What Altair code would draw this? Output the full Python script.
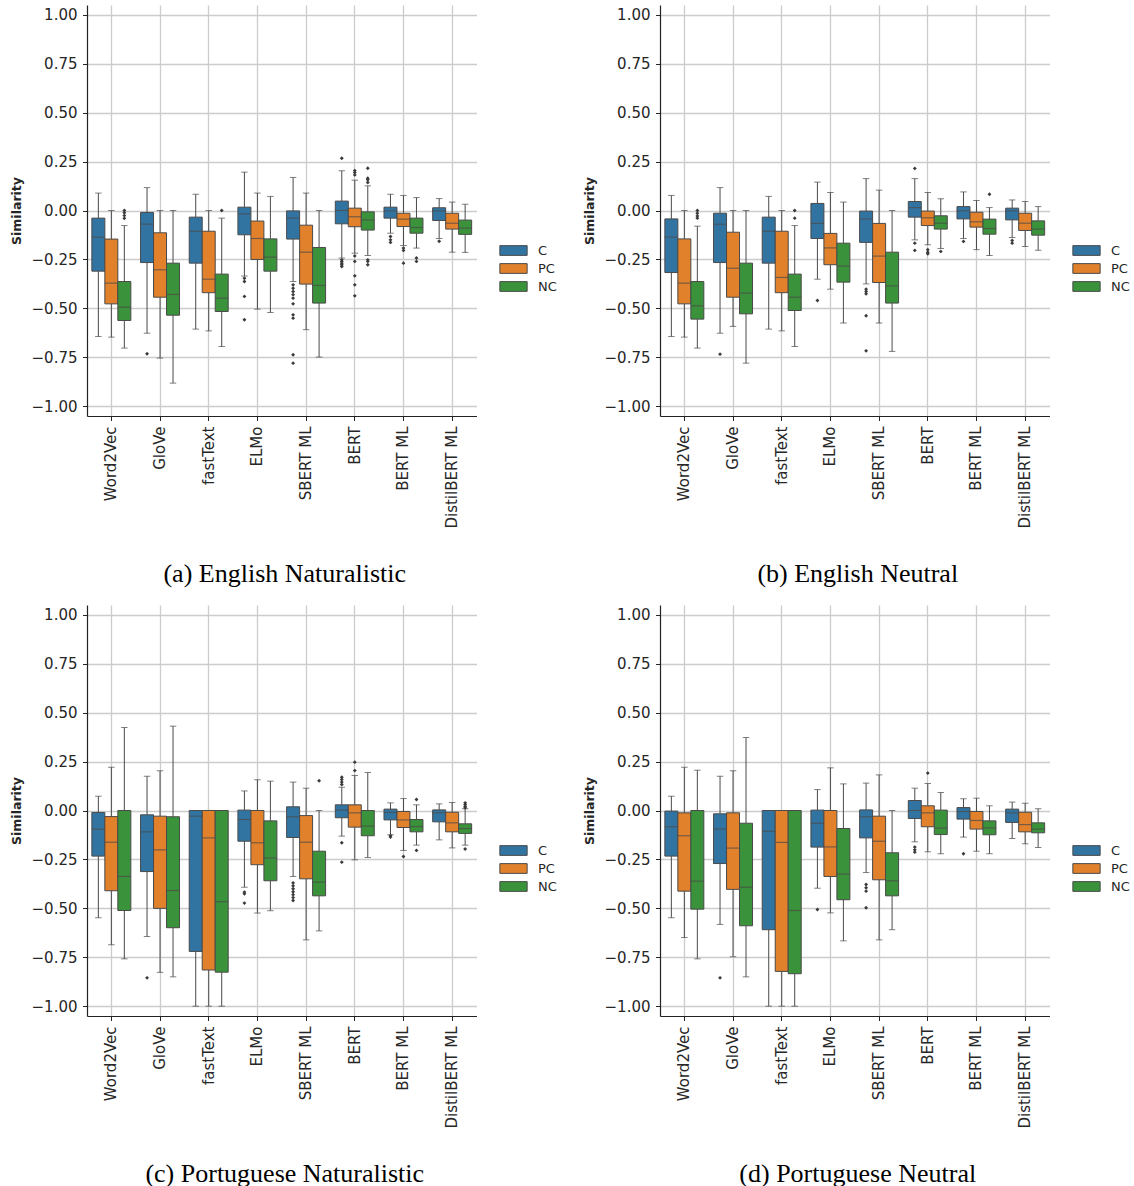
import altair as alt
import pandas as pd

MODELS = ["Word2Vec", "GloVe", "fastText", "ELMo", "SBERT ML", "BERT", "BERT ML", "DistilBERT ML"]
GROUPS = ["C", "PC", "NC"]
COLORS = ["#3274a1", "#e1812c", "#3a923a"]
EDGE = "#4a4a4a"
TICKS = [1.0, 0.75, 0.5, 0.25, 0.0, -0.25, -0.5, -0.75, -1.0]

# Box statistics, ordered model by model, each model as C, PC, NC.
# (a) English Naturalistic
en_nat_lo = [-0.644, -0.647, -0.703, -0.627, -0.754, -0.882, -0.606, -0.615, -0.695, -0.335, -0.504, -0.521,
             -0.363, -0.609, -0.749, -0.243, -0.218, -0.230, -0.116, -0.179, -0.192, -0.143, -0.213, -0.214]
en_nat_q1 = [-0.310, -0.477, -0.562, -0.266, -0.443, -0.535, -0.269, -0.420, -0.516, -0.124, -0.250, -0.310,
             -0.146, -0.376, -0.473, -0.068, -0.083, -0.100, -0.039, -0.082, -0.116, -0.051, -0.095, -0.122]
en_nat_med = [-0.136, -0.371, -0.494, -0.070, -0.303, -0.429, -0.106, -0.351, -0.448, -0.017, -0.143, -0.238,
              -0.039, -0.213, -0.383, 0.000, -0.032, -0.048, -0.002, -0.044, -0.087, -0.002, -0.065, -0.090]
en_nat_q3 = [-0.039, -0.146, -0.363, -0.010, -0.114, -0.269, -0.034, -0.106, -0.325, 0.017, -0.054, -0.145,
             -0.002, -0.075, -0.189, 0.048, 0.012, -0.007, 0.017, -0.014, -0.039, 0.014, -0.014, -0.049]
en_nat_hi = [0.089, 0.000, -0.077, 0.117, 0.000, 0.000, 0.083, 0.000, -0.039, 0.196, 0.089, 0.072,
             0.169, 0.089, 0.000, 0.203, 0.155, 0.126, 0.083, 0.077, 0.066, 0.061, 0.043, 0.032]
en_nat_out = [
    ("Word2Vec", "NC", 0.0), ("Word2Vec", "NC", -0.012), ("Word2Vec", "NC", -0.026), ("Word2Vec", "NC", -0.040),
    ("GloVe", "C", -0.732),
    ("fastText", "NC", 0.0),
    ("ELMo", "C", -0.346), ("ELMo", "C", -0.363), ("ELMo", "C", -0.439), ("ELMo", "C", -0.558),
    ("SBERT ML", "C", -0.380), ("SBERT ML", "C", -0.397), ("SBERT ML", "C", -0.414), ("SBERT ML", "C", -0.430),
    ("SBERT ML", "C", -0.448), ("SBERT ML", "C", -0.477), ("SBERT ML", "C", -0.533), ("SBERT ML", "C", -0.550),
    ("SBERT ML", "C", -0.737), ("SBERT ML", "C", -0.780),
    ("BERT", "C", 0.267), ("BERT", "C", -0.252), ("BERT", "C", -0.260), ("BERT", "C", -0.269), ("BERT", "C", -0.277),
    ("BERT", "C", -0.286),
    ("BERT", "PC", 0.204), ("BERT", "PC", 0.194), ("BERT", "PC", 0.182), ("BERT", "PC", -0.232), ("BERT", "PC", -0.260),
    ("BERT", "PC", -0.334), ("BERT", "PC", -0.380), ("BERT", "PC", -0.436),
    ("BERT", "NC", 0.216), ("BERT", "NC", 0.165), ("BERT", "NC", 0.157), ("BERT", "NC", 0.143), ("BERT", "NC", -0.252),
    ("BERT", "NC", -0.260), ("BERT", "NC", -0.277),
    ("BERT ML", "C", -0.133), ("BERT ML", "C", -0.150), ("BERT ML", "C", -0.163),
    ("BERT ML", "PC", -0.192), ("BERT ML", "PC", -0.204), ("BERT ML", "PC", -0.269),
    ("BERT ML", "NC", -0.243), ("BERT ML", "NC", -0.260),
    ("DistilBERT ML", "C", -0.157),
]

# (b) English Neutral
en_neu_lo = [-0.644, -0.647, -0.703, -0.627, -0.592, -0.780, -0.606, -0.615, -0.695, -0.351, -0.402, -0.575,
             -0.375, -0.575, -0.720, -0.150, -0.175, -0.194, -0.143, -0.200, -0.230, -0.138, -0.184, -0.203]
en_neu_q1 = [-0.317, -0.477, -0.555, -0.266, -0.443, -0.528, -0.269, -0.420, -0.511, -0.143, -0.277, -0.366,
             -0.163, -0.368, -0.473, -0.034, -0.077, -0.095, -0.043, -0.085, -0.121, -0.048, -0.102, -0.126]
en_neu_med = [-0.136, -0.371, -0.487, -0.070, -0.295, -0.422, -0.106, -0.342, -0.443, -0.066, -0.191, -0.284,
              -0.043, -0.233, -0.385, 0.015, -0.037, -0.065, -0.002, -0.058, -0.092, -0.002, -0.065, -0.095]
en_neu_q3 = [-0.043, -0.145, -0.363, -0.014, -0.111, -0.269, -0.034, -0.106, -0.325, 0.036, -0.117, -0.167,
             -0.003, -0.066, -0.213, 0.046, -0.003, -0.027, 0.020, -0.009, -0.044, 0.012, -0.014, -0.053]
en_neu_hi = [0.077, 0.000, -0.080, 0.117, 0.000, 0.000, 0.072, 0.000, -0.077, 0.145, 0.092, 0.043,
             0.163, 0.104, 0.000, 0.163, 0.092, 0.060, 0.095, 0.051, 0.015, 0.054, 0.046, 0.020]
en_neu_out = [
    ("Word2Vec", "NC", 0.0), ("Word2Vec", "NC", -0.014), ("Word2Vec", "NC", -0.028), ("Word2Vec", "NC", -0.039),
    ("GloVe", "C", -0.734),
    ("fastText", "NC", 0.0), ("fastText", "NC", -0.039),
    ("ELMo", "C", -0.460),
    ("SBERT ML", "C", -0.402), ("SBERT ML", "C", -0.414), ("SBERT ML", "C", -0.426), ("SBERT ML", "C", -0.538),
    ("SBERT ML", "C", -0.717),
    ("BERT", "C", 0.215), ("BERT", "C", -0.167), ("BERT", "C", -0.204),
    ("BERT", "PC", -0.200), ("BERT", "PC", -0.213), ("BERT", "PC", -0.221),
    ("BERT", "NC", -0.209),
    ("BERT ML", "C", -0.158),
    ("BERT ML", "NC", 0.083),
    ("DistilBERT ML", "C", -0.153), ("DistilBERT ML", "C", -0.167),
]

# (c) Portuguese Naturalistic
pt_nat_lo = [-0.548, -0.686, -0.758, -0.644, -0.827, -0.850, -1.000, -1.000, -1.000, -0.392, -0.524, -0.512,
             -0.337, -0.661, -0.615, -0.131, -0.252, -0.240, -0.124, -0.204, -0.177, -0.150, -0.191, -0.177]
pt_nat_q1 = [-0.233, -0.410, -0.511, -0.312, -0.500, -0.599, -0.720, -0.815, -0.826, -0.157, -0.277, -0.359,
             -0.138, -0.349, -0.436, -0.037, -0.085, -0.129, -0.048, -0.087, -0.109, -0.058, -0.109, -0.117]
pt_nat_med = [-0.095, -0.162, -0.337, -0.109, -0.201, -0.409, -0.029, -0.140, -0.466, -0.046, -0.165, -0.243,
              -0.032, -0.162, -0.366, 0.002, -0.012, -0.080, -0.010, -0.048, -0.082, -0.012, -0.063, -0.092]
pt_nat_q3 = [-0.010, -0.031, 0.000, -0.022, -0.029, -0.032, 0.000, 0.000, 0.000, 0.002, 0.000, -0.053,
             0.019, -0.026, -0.208, 0.029, 0.029, 0.000, 0.007, -0.005, -0.046, 0.003, -0.009, -0.068]
pt_nat_hi = [0.073, 0.221, 0.424, 0.175, 0.203, 0.431, 0.000, 0.000, 0.000, 0.100, 0.157, 0.150,
             0.145, 0.114, 0.000, 0.119, 0.179, 0.194, 0.039, 0.061, 0.029, 0.034, 0.041, 0.009]
pt_nat_out = [
    ("GloVe", "C", -0.855),
    ("ELMo", "C", -0.417), ("ELMo", "C", -0.426), ("ELMo", "C", -0.473),
    ("SBERT ML", "C", -0.370), ("SBERT ML", "C", -0.385), ("SBERT ML", "C", -0.400), ("SBERT ML", "C", -0.415),
    ("SBERT ML", "C", -0.430), ("SBERT ML", "C", -0.445), ("SBERT ML", "C", -0.460),
    ("SBERT ML", "NC", 0.152),
    ("BERT", "C", 0.170), ("BERT", "C", 0.158), ("BERT", "C", 0.145), ("BERT", "C", 0.133), ("BERT", "C", -0.165),
    ("BERT", "C", -0.264),
    ("BERT", "PC", 0.247), ("BERT", "PC", 0.204),
    ("BERT ML", "C", -0.129), ("BERT ML", "C", -0.136),
    ("BERT ML", "PC", -0.235),
    ("BERT ML", "NC", 0.056), ("BERT ML", "NC", -0.204),
    ("DistilBERT ML", "NC", 0.039), ("DistilBERT ML", "NC", 0.031), ("DistilBERT ML", "NC", 0.022),
    ("DistilBERT ML", "NC", 0.014), ("DistilBERT ML", "NC", -0.197),
]

# (d) Portuguese Neutral
pt_neu_lo = [-0.548, -0.649, -0.758, -0.582, -0.747, -0.850, -1.000, -1.000, -1.000, -0.397, -0.523, -0.666,
             -0.317, -0.661, -0.609, -0.160, -0.211, -0.221, -0.136, -0.208, -0.221, -0.143, -0.170, -0.189]
pt_neu_q1 = [-0.233, -0.412, -0.504, -0.271, -0.403, -0.589, -0.609, -0.822, -0.834, -0.187, -0.337, -0.456,
             -0.140, -0.354, -0.436, -0.041, -0.083, -0.123, -0.044, -0.095, -0.124, -0.061, -0.109, -0.114]
pt_neu_med = [-0.083, -0.129, -0.361, -0.095, -0.192, -0.392, -0.106, -0.163, -0.511, -0.065, -0.186, -0.325,
              -0.032, -0.157, -0.359, 0.000, -0.012, -0.090, -0.005, -0.051, -0.089, -0.012, -0.072, -0.095]
pt_neu_q3 = [-0.003, -0.012, 0.000, -0.017, -0.012, -0.065, 0.000, 0.000, 0.000, 0.002, 0.000, -0.092,
             0.003, -0.029, -0.216, 0.051, 0.024, 0.002, 0.015, -0.005, -0.053, 0.007, -0.009, -0.063]
pt_neu_hi = [0.073, 0.221, 0.206, 0.175, 0.203, 0.373, 0.000, 0.000, 0.000, 0.107, 0.218, 0.136,
             0.140, 0.182, 0.000, 0.114, 0.138, 0.092, 0.060, 0.063, 0.024, 0.043, 0.037, 0.009]
pt_neu_out = [
    ("GloVe", "C", -0.855),
    ("ELMo", "C", -0.506),
    ("SBERT ML", "C", -0.378), ("SBERT ML", "C", -0.395), ("SBERT ML", "C", -0.412), ("SBERT ML", "C", -0.497),
    ("BERT", "C", -0.187), ("BERT", "C", -0.201), ("BERT", "C", -0.213),
    ("BERT", "PC", 0.191),
    ("BERT ML", "C", -0.221),
]


def box_table(lo, q1, med, q3, hi):
    rows = []
    for i, model in enumerate(MODELS):
        for j, group in enumerate(GROUPS):
            k = i * 3 + j
            rows.append({"model": model, "group": group, "lo": lo[k], "q1": q1[k],
                         "med": med[k], "q3": q3[k], "hi": hi[k]})
    return pd.DataFrame(rows)


def panel(caption, lo, q1, med, q3, hi, outliers):
    boxes = box_table(lo, q1, med, q3, hi)
    fliers = pd.DataFrame(outliers, columns=["model", "group", "value"])

    x = alt.X("model:N", sort=MODELS, title=None,
              scale=alt.Scale(domain=MODELS, paddingInner=0, paddingOuter=0),
              axis=alt.Axis(labelAngle=270, grid=True))
    xo = alt.XOffset("group:N", sort=GROUPS,
                     scale=alt.Scale(domain=GROUPS, paddingInner=0, paddingOuter=0.373))
    yscale = alt.Scale(domain=[-1.05, 1.05], nice=False, zero=False)
    y_axis = alt.Axis(values=TICKS, format=".2f", title="Similarity")

    base = alt.Chart(boxes).encode(x=x, xOffset=xo)

    lower = base.mark_rule(color=EDGE, strokeWidth=1).encode(
        y=alt.Y("lo:Q", scale=yscale, axis=y_axis), y2="q1:Q")
    upper = base.mark_rule(color=EDGE, strokeWidth=1).encode(y="q3:Q", y2="hi:Q")
    cap_lo = base.mark_tick(color=EDGE, size=6.5, thickness=1).encode(y="lo:Q")
    cap_hi = base.mark_tick(color=EDGE, size=6.5, thickness=1).encode(y="hi:Q")
    box = base.mark_bar(stroke=EDGE, strokeWidth=1).encode(
        y="q1:Q", y2="q3:Q",
        color=alt.Color("group:N", sort=GROUPS,
                        scale=alt.Scale(domain=GROUPS, range=COLORS),
                        legend=alt.Legend(title=None, orient="none", legendX=416, legendY=235,
                                          symbolType="M-1.4,-0.5H1.4V0.5H-1.4Z", symbolSize=380,
                                          symbolStrokeColor=EDGE, symbolStrokeWidth=1,
                                          symbolOpacity=1, labelOffset=14, rowPadding=0,
                                          padding=0, labelFontSize=13, labelColor="#262626",
                                          labelFont="DejaVu Sans")))
    median = base.mark_tick(color=EDGE, size=13, thickness=1.2).encode(y="med:Q")
    dots = alt.Chart(fliers).mark_point(shape="diamond", filled=True, size=15, color="#3a3a3a",
                                        opacity=1).encode(x=x, xOffset=xo, y="value:Q")

    return alt.layer(lower, upper, cap_lo, cap_hi, box, median, dots).properties(
        width=389.5, height=411,
        title=alt.TitleParams(caption, orient="bottom", anchor="middle", frame="group",
                              font="Liberation Serif", fontSize=26, fontWeight="normal",
                              color="black", offset=33, dx=3))


pa = panel("(a) English Naturalistic", en_nat_lo, en_nat_q1, en_nat_med, en_nat_q3, en_nat_hi, en_nat_out)
pb = panel("(b) English Neutral", en_neu_lo, en_neu_q1, en_neu_med, en_neu_q3, en_neu_hi, en_neu_out)
pc = panel("(c) Portuguese Naturalistic", pt_nat_lo, pt_nat_q1, pt_nat_med, pt_nat_q3, pt_nat_hi, pt_nat_out)
pd_ = panel("(d) Portuguese Neutral", pt_neu_lo, pt_neu_q1, pt_neu_med, pt_neu_q3, pt_neu_hi, pt_neu_out)

top = alt.hconcat(pa, pb, spacing=26).resolve_scale(color="independent").resolve_legend(color="independent")
bottom = alt.hconcat(pc, pd_, spacing=26).resolve_scale(color="independent").resolve_legend(color="independent")

chart = alt.vconcat(top, bottom, spacing=17).resolve_scale(color="independent").resolve_legend(
    color="independent").properties(
    padding={"left": 10, "top": 5, "right": 0, "bottom": 0}
).configure(
    font="DejaVu Sans", background="white"
).configure_view(
    stroke=None
).configure_axis(
    labelFont="DejaVu Sans", labelFontSize=15, labelColor="#262626",
    tickSize=4.5, tickColor="#262626", tickWidth=1, labelPadding=5.5,
    domainColor="#222222", domainWidth=1.2,
    gridColor="#cccccc", gridWidth=1.3,
    titleFont="DejaVu Sans", titleFontSize=12.5, titleFontWeight="bold", titleColor="#262626",
    titlePadding=8
)

chart.save("out.html", embed_options={"renderer": "svg", "actions": False})
